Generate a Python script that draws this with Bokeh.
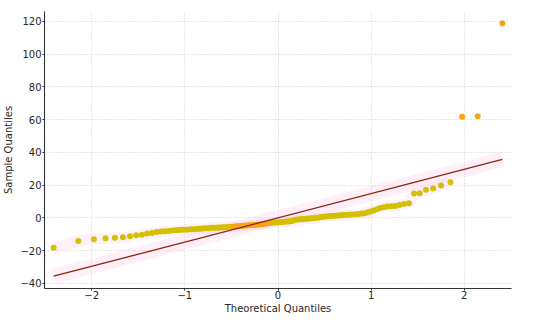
from bokeh.plotting import figure
from bokeh.models import Range1d, FixedTicker
from bokeh.embed import file_html
from bokeh.resources import INLINE

# Theoretical quantiles (x) and sample quantiles (y)
theoretical = [
    -2.409, -2.144, -1.977, -1.852, -1.751, -1.665, -1.589, -1.522, -1.461, -1.405,
    -1.353, -1.305, -1.259, -1.216, -1.175, -1.136, -1.098, -1.063, -1.028, -0.994,
    -0.962, -0.931, -0.900, -0.870, -0.842, -0.813, -0.786, -0.759, -0.732, -0.706,
    -0.681, -0.656, -0.631, -0.607, -0.583, -0.559, -0.536, -0.513, -0.490, -0.468,
    -0.445, -0.423, -0.401, -0.380, -0.358, -0.337, -0.316, -0.295, -0.274, -0.253,
    -0.233, -0.212, -0.192, -0.172, -0.151, -0.131, -0.111, -0.090, -0.070, -0.050,
    -0.030, -0.010, 0.010, 0.030, 0.050, 0.070, 0.090, 0.111, 0.131, 0.151,
    0.172, 0.192, 0.212, 0.233, 0.253, 0.274, 0.295, 0.316, 0.337, 0.358,
    0.380, 0.401, 0.423, 0.445, 0.468, 0.490, 0.513, 0.536, 0.559, 0.583,
    0.607, 0.631, 0.656, 0.681, 0.706, 0.732, 0.759, 0.786, 0.813, 0.842,
    0.870, 0.900, 0.931, 0.962, 0.994, 1.028, 1.063, 1.098, 1.136, 1.175,
    1.216, 1.259, 1.305, 1.353, 1.405, 1.461, 1.522, 1.589, 1.665, 1.751,
    1.852, 1.977, 2.144, 2.409,
]
sample = [
    -18.3, -14.2, -13.0, -12.4, -12.1, -11.9, -11.3, -10.7, -10.3, -9.6,
    -9.3, -8.7, -8.4, -8.2, -8.0, -7.8, -7.6, -7.4, -7.3, -7.2,
    -7.1, -7.0, -6.9, -6.8, -6.7, -6.5, -6.4, -6.3, -6.2, -6.1,
    -6.0, -6.0, -5.9, -5.9, -5.8, -5.7, -5.6, -5.5, -5.4, -5.3,
    -5.2, -5.1, -5.0, -4.9, -4.8, -4.7, -4.6, -4.5, -4.4, -4.3,
    -4.2, -4.1, -4.0, -3.9, -3.7, -3.5, -3.3, -3.1, -3.0, -2.9,
    -2.8, -2.8, -2.7, -2.6, -2.5, -2.4, -2.3, -2.2, -2.1, -2.0,
    -1.5, -1.1, -1.0, -0.9, -0.8, -0.7, -0.6, -0.5, -0.4, -0.3,
    -0.2, 0.0, 0.1, 0.3, 0.5, 0.7, 0.8, 0.9, 1.1, 1.2,
    1.3, 1.4, 1.5, 1.6, 1.7, 1.8, 1.9, 2.0, 2.1, 2.2,
    2.4, 2.6, 2.8, 3.4, 3.9, 4.5, 5.2, 6.0, 6.5, 6.9,
    7.1, 7.3, 7.9, 8.5, 8.9, 14.8, 15.0, 17.1, 17.9, 19.8,
    21.8, 61.8, 62.0, 118.8,
]
# point group: "g" = gold, "o" = orange
groups = (["g"] * 37 + ["o"] * 21 + ["g"] * 63 + ["o"] * 3)

# reference line fit
slope = 14.8
intercept = 0.0

x_ticks = [-2, -1, 0, 1, 2]
y_ticks = [-40, -20, 0, 20, 40, 60, 80, 100, 120]

GOLD = "#d3c000"
ORANGE = "#f6a31c"
TEXT = "#262626"

p = figure(width=524, height=320, output_backend="svg", toolbar_location=None,
           x_range=Range1d(-2.507, 2.507), y_range=Range1d(-43.15, 126.0),
           min_border_left=44, min_border_right=13, min_border_top=11, min_border_bottom=32)

# faint pink glow behind line and points
line_x = [theoretical[0], theoretical[-1]]
line_y = [slope * v + intercept for v in line_x]
p.line(line_x, line_y, line_width=15, color="#ffc4ea", alpha=0.28)
p.line(theoretical[:121], sample[:121], line_width=11, color="#ffc4ea", alpha=0.25)

# points
gx = [x for x, g in zip(theoretical, groups) if g == "g"]
gy = [y for y, g in zip(sample, groups) if g == "g"]
ox = [x for x, g in zip(theoretical, groups) if g == "o"]
oy = [y for y, g in zip(sample, groups) if g == "o"]
p.scatter(ox, oy, size=6, color=ORANGE, line_color=None)
p.scatter(gx, gy, size=6, color=GOLD, line_color=None)

# fitted line
p.line(line_x, line_y, line_width=1.3, color="#8e2208")

p.outline_line_color = None
p.background_fill_color = "white"
p.border_fill_color = "white"

for ax in (p.xaxis[0], p.yaxis[0]):
    ax.axis_line_color = "#333333"
    ax.axis_line_width = 1.1
    ax.major_tick_line_color = "#333333"
    ax.major_tick_out = 2
    ax.major_tick_in = 0
    ax.minor_tick_line_color = None
    ax.major_label_text_font = "DejaVu Sans"
    ax.major_label_text_font_size = "10px"
    ax.major_label_text_color = TEXT
    ax.axis_label_text_font = "DejaVu Sans"
    ax.axis_label_text_font_size = "10px"
    ax.axis_label_text_font_style = "normal"
    ax.axis_label_text_color = TEXT

p.xaxis.major_label_standoff = 0
p.xaxis.axis_label_standoff = 1
p.yaxis.major_label_standoff = 1
p.yaxis.axis_label_standoff = 3

p.xaxis.axis_label = "Theoretical Quantiles"
p.yaxis.axis_label = "Sample Quantiles"
p.xaxis.ticker = FixedTicker(ticks=x_ticks)
p.yaxis.ticker = FixedTicker(ticks=y_ticks)
p.xaxis.major_label_overrides = {t: (f"\u2212{abs(t)}" if t < 0 else str(t)) for t in x_ticks}
p.yaxis.major_label_overrides = {t: (f"\u2212{abs(t)}" if t < 0 else str(t)) for t in y_ticks}

for g in (p.xgrid[0], p.ygrid[0]):
    g.grid_line_color = "#c8c8c8"
    g.grid_line_dash = "1 2"
    g.grid_line_width = 0.9
p.xgrid.ticker = FixedTicker(ticks=x_ticks)
p.ygrid.ticker = FixedTicker(ticks=y_ticks)

open("out.html", "w").write(file_html(p, INLINE))
